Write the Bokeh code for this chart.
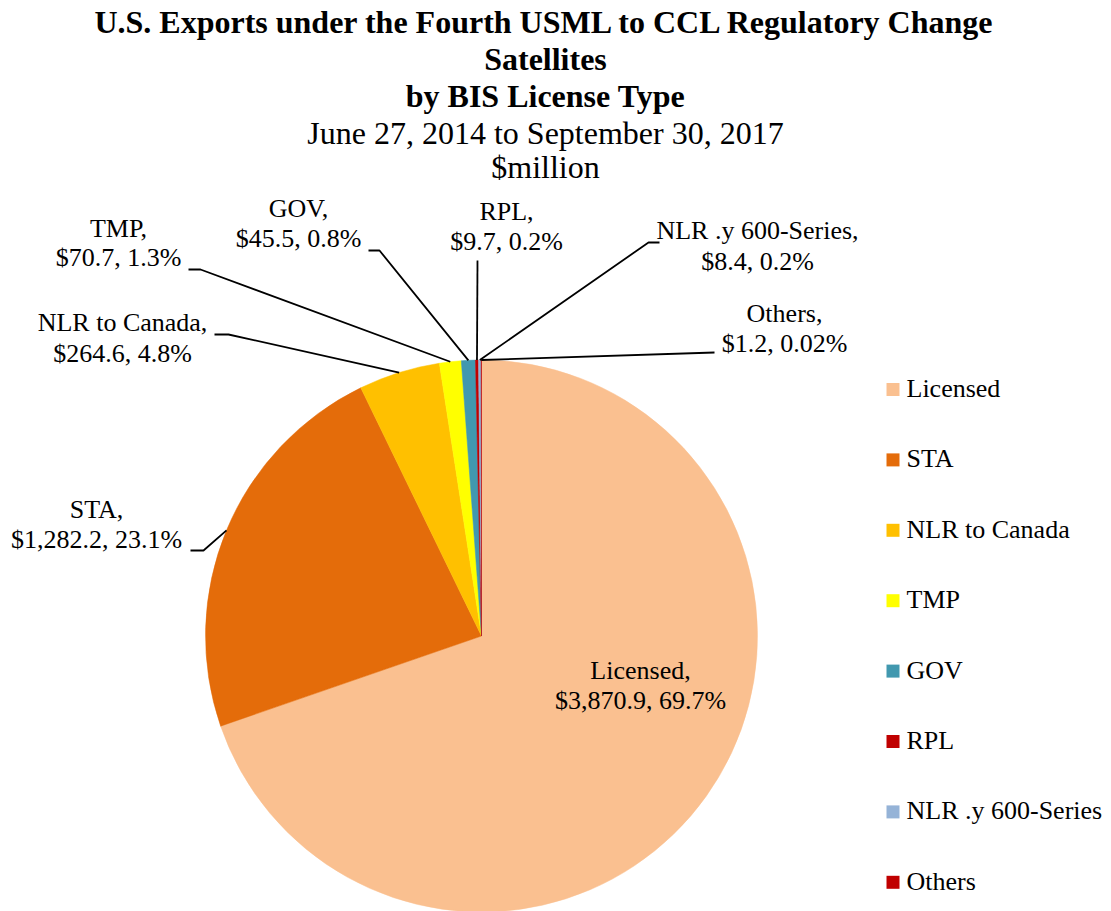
import math
from bokeh.plotting import figure
from bokeh.models import ColumnDataSource, Range1d
from bokeh.core.properties import value
from bokeh.embed import file_html
from bokeh.resources import INLINE

# ---- data ----
categories = ["Licensed", "STA", "NLR to Canada", "TMP", "GOV", "RPL",
              "NLR .y 600-Series", "Others"]
values = [3870.9, 1282.2, 264.6, 70.7, 45.5, 9.7, 8.4, 1.2]
value_labels = ["$3,870.9", "$1,282.2", "$264.6", "$70.7", "$45.5", "$9.7",
                "$8.4", "$1.2"]
percent_labels = ["69.7%", "23.1%", "4.8%", "1.3%", "0.8%", "0.2%", "0.2%",
                  "0.02%"]
colors = ["#FAC090", "#E46C0A", "#FFC000", "#FFFF00", "#4198AF", "#C00000",
          "#95B3D7", "#C00000"]

title_lines = ["U.S. Exports under the Fourth USML to CCL Regulatory Change",
               "Satellites", "by BIS License Type"]
subtitle_lines = ["June 27, 2014 to September 30, 2017", "$million"]

# ---- layout (pixel coordinates, y from top) ----
W, H = 1111, 911
CX, CY, R = 481, 635.5, 276
FONT = "Liberation Serif"
TEXT_SHIFT = -12

# label layout: text centre x, baseline line1, baseline line2, elbow, end
label_layout = {
    "Licensed": (640, 682, 712, None, None),
    "STA": (96, 521, 551, (203, 550), (190, 550)),
    "NLR to Canada": (122, 334, 365, (228, 334), (214, 334)),
    "TMP": (118, 240, 269, (200, 269), (188, 269)),
    "GOV": (298, 220, 250, (379, 250), (368, 250)),
    "RPL": (506, 223, 253, (477, 260), (477, 260)),
    "NLR .y 600-Series": (757, 242, 273, (648, 242), (659, 242)),
    "Others": (784, 325, 355, (714, 352), (714, 352)),
}
title_baselines = [33, 70, 107]
subtitle_baselines = [144, 178]
legend_x_box = 892.5
legend_x_text = 906
legend_top = 389
legend_step = 70.4


def fy(y):
    return H - y


p = figure(width=W, height=H, x_range=Range1d(0, W), y_range=Range1d(0, H),
           output_backend="svg", toolbar_location=None, min_border=0)
p.axis.visible = False
p.grid.visible = False
p.outline_line_color = None
p.background_fill_color = "white"
p.border_fill_color = "white"

total = sum(values)
starts, ends, mids = [], [], []
cum = 0.0
for v in values:
    a0 = 2 * math.pi * cum / total
    a1 = 2 * math.pi * (cum + v) / total
    starts.append(math.pi / 2 - a0)
    ends.append(math.pi / 2 - a1)
    mids.append((a0 + a1) / 2)
    cum += v

src = ColumnDataSource(dict(start=starts, end=ends, color=colors,
                            cat=categories))
p.wedge(x=CX, y=fy(CY), radius=R, start_angle="start", end_angle="end",
        direction="clock", fill_color="color", line_color="color",
        line_width=0.5, source=src)

# leaders + labels
lx, ly = [], []
t_x, t_y, t_text = [], [], []
for cat, v, vl, pl, m in zip(categories, values, value_labels,
                             percent_labels, mids):
    tx, b1, b2, elbow, end = label_layout[cat]
    t_x += [tx, tx]
    t_y += [fy(b1 + TEXT_SHIFT), fy(b2 + TEXT_SHIFT)]
    t_text += [cat + ",", vl + ", " + pl]
    if elbow is not None:
        ex = CX + R * math.sin(m)
        ey = CY - R * math.cos(m)
        lx.append([ex, elbow[0], end[0]])
        ly.append([fy(ey), fy(elbow[1]), fy(end[1])])

p.multi_line(xs=lx, ys=ly, line_color="black", line_width=1.8)
p.text(x=t_x, y=t_y, text=t_text, text_align="center",
       text_baseline="alphabetic", text_font=value(FONT),
       text_font_size="26px", text_color="black")

# title
p.text(x=[545] * 3, y=[fy(b + TEXT_SHIFT) for b in title_baselines],
       text=title_lines, text_align="center", text_baseline="alphabetic",
       text_font=value(FONT), text_font_size="32px", text_font_style="bold",
       text_color="black")
p.text(x=[545] * 2, y=[fy(b + TEXT_SHIFT) for b in subtitle_baselines],
       text=subtitle_lines, text_align="center", text_baseline="alphabetic",
       text_font=value(FONT), text_font_size="32px", text_color="black")

# legend
legend_centers = [legend_top + legend_step * i for i in range(len(categories))]
p.rect(x=[legend_x_box] * len(categories), y=[fy(c) for c in legend_centers],
       width=13, height=13, fill_color=colors, line_color=None)
p.text(x=[legend_x_text] * len(categories),
       y=[fy(c - 1) for c in legend_centers], text=categories,
       text_align="left", text_baseline="alphabetic", text_font=value(FONT),
       text_font_size="26px", text_color="black")

open("out.html", "w").write(file_html(p, INLINE))
